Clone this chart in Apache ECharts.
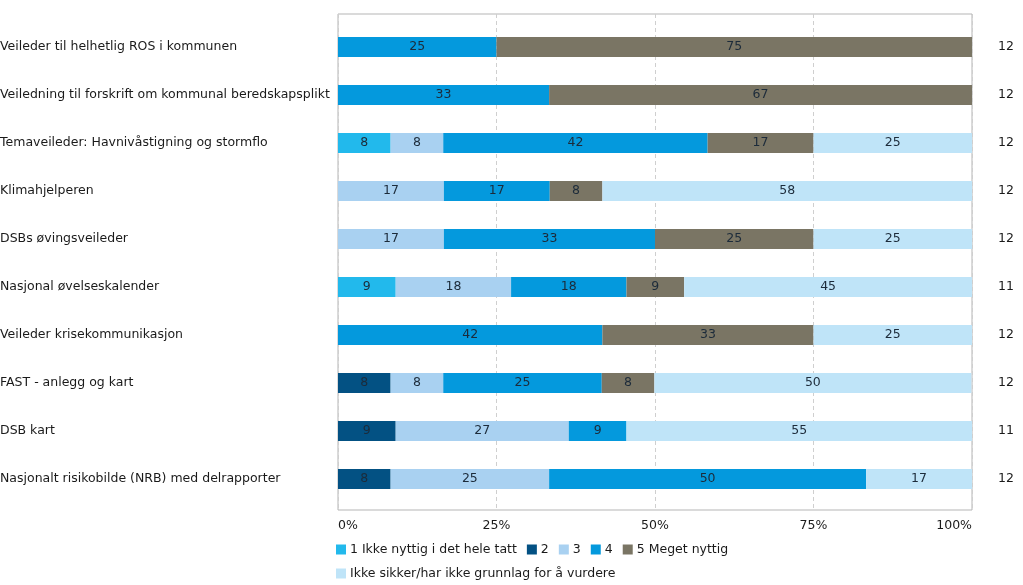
<!DOCTYPE html>
<html>
<head>
<meta charset="utf-8">
<script src="https://cdn.jsdelivr.net/npm/echarts@6/dist/echarts.min.js"></script>
<style>html,body{margin:0;padding:0;background:#fff}#c{width:1023px;height:585px}</style>
</head>
<body>
<div id="c"></div>
<script>
var categories = [
  "Veileder til helhetlig ROS i kommunen",
  "Veiledning til forskrift om kommunal beredskapsplikt",
  "Temaveileder: Havnivåstigning og stormflo",
  "Klimahjelperen",
  "DSBs øvingsveileder",
  "Nasjonal øvelseskalender",
  "Veileder krisekommunikasjon",
  "FAST - anlegg og kart",
  "DSB kart",
  "Nasjonalt risikobilde (NRB) med delrapporter"
];
var nValues = ["12","12","12","12","12","11","12","12","11","12"];
var seriesNames = ["1 Ikke nyttig i det hele tatt","2","3","4","5 Meget nyttig","Ikke sikker/har ikke grunnlag for å vurdere"];
var s1 = [0, 0, 8.3, 0, 0, 9.1, 0, 0, 0, 0];
var s2 = [0, 0, 0, 0, 0, 0, 0, 8.3, 9.1, 8.3];
var s3 = [0, 0, 8.3, 16.7, 16.7, 18.2, 0, 8.3, 27.3, 25];
var s4 = [25, 33.3, 41.7, 16.7, 33.3, 18.2, 41.7, 25, 9.1, 50];
var s5 = [75, 66.7, 16.7, 8.3, 25, 9.1, 33.3, 8.3, 0, 0];
var s6 = [0, 0, 25, 58.3, 25, 45.4, 25, 50, 54.5, 16.7];
var xTicks = ["0%","25%","50%","75%","100%"];
var colors = ["#22b9ec","#035183","#a9d1f1","#0499dd","#7a7564","#bfe4f8"];

var FONT = "DejaVu Sans";
var FS = 12.5;
var allData = [s1,s2,s3,s4,s5,s6];
var series = allData.map(function(d,i){
  return {
    name: seriesNames[i], type: 'bar', stack: 'total', xAxisIndex: 1, yAxisIndex: 1,
    data: d, barWidth: 20, itemStyle: {color: colors[i]},
    label: {show: true, position: 'inside', color: '#1c2b3a', fontFamily: FONT, fontSize: FS,
      formatter: function(p){ return p.value > 0 ? String(Math.round(p.value)) : ''; }},
    emphasis: {disabled: true}, animation: false
  };
});
var chart = echarts.init(document.getElementById('c'));
chart.setOption({
  animation: false,
  color: colors,
  grid: [
    {left: 338, right: 51, top: 14, bottom: 75, show: true, borderColor: '#b5b5b5', borderWidth: 1, backgroundColor: 'transparent', outerBoundsMode: 'none', containLabel: false},
    {left: 338, right: 51, top: 23, bottom: 82, outerBoundsMode: 'none', containLabel: false}
  ],
  xAxis: [
    {type: 'value', gridIndex: 0, min: 0, max: 100, interval: 25,
     axisLine: {show: false}, axisTick: {show: false},
     splitLine: {show: true, lineStyle: {color: '#cfcfcf', type: [4,3], width: 1}},
     axisLabel: {margin: 9, color: '#1a1a1a', fontFamily: FONT, fontSize: FS,
       alignMinLabel: 'left', alignMaxLabel: 'right',
       formatter: function(v){ return xTicks[Math.round(v/25)]; }}},
    {type: 'value', gridIndex: 1, min: 0, max: 100, show: false}
  ],
  yAxis: [
    {type: 'value', gridIndex: 0, show: false},
    {type: 'category', gridIndex: 1, data: categories, inverse: true,
     axisLine: {show: false}, axisTick: {show: false}, splitLine: {show: false},
     axisLabel: {align: 'left', margin: 338, color: '#1a1a1a', fontFamily: FONT, fontSize: FS}},
    {type: 'category', gridIndex: 1, position: 'right', data: nValues, inverse: true,
     axisLine: {show: false}, axisTick: {show: false}, splitLine: {show: false},
     axisLabel: {align: 'left', margin: 26, color: '#1a1a1a', fontFamily: FONT, fontSize: FS}}
  ],
  legend: [
    {data: seriesNames.slice(0,5), left: 336, top: 543, itemWidth: 10, itemHeight: 10, itemGap: 10,
     icon: 'rect', textStyle: {color: '#1a1a1a', fontFamily: FONT, fontSize: FS, padding: [0,0,0,-1]}, padding: 0, selectedMode: false},
    {data: seriesNames.slice(5), left: 336, top: 567, itemWidth: 10, itemHeight: 10, itemGap: 10,
     icon: 'rect', textStyle: {color: '#1a1a1a', fontFamily: FONT, fontSize: FS, padding: [0,0,0,-1]}, padding: 0, selectedMode: false}
  ],
  series: series
});
</script>
</body>
</html>
